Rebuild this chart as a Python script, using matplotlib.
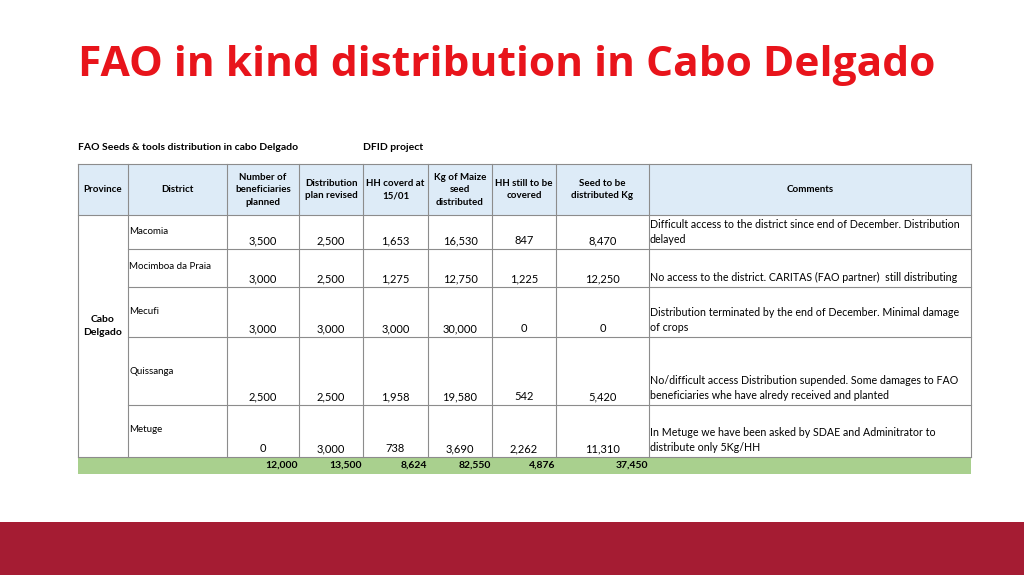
import matplotlib.pyplot as plt
from matplotlib.patches import Rectangle
from matplotlib.lines import Line2D

plt.rcParams['font.family'] = ['Lato', 'DejaVu Sans']

W, H = 1024, 575

headers = ["Province", "District", "Number of\nbeneficiaries\nplanned", "Distribution\nplan revised",
           "HH coverd at\n15/01", "Kg of Maize\nseed\ndistributed", "HH still to be\ncovered",
           "Seed to be\ndistributed Kg", "Comments"]
province = "Cabo\nDelgado"
districts = ["Macomia", "Mocimboa da Praia", "Mecufi", "Quissanga", "Metuge"]
planned = [3500, 3000, 3000, 2500, 0]
revised = [2500, 2500, 3000, 2500, 3000]
hh_covered = [1653, 1275, 3000, 1958, 738]
kg_distributed = [16530, 12750, 30000, 19580, 3690]
hh_remaining = [847, 1225, 0, 542, 2262]
kg_remaining = [8470, 12250, 0, 5420, 11310]
comments = [
    "Difficult access to the district since end of December. Distribution\ndelayed",
    "No access to the district. CARITAS (FAO partner)  still distributing",
    "Distribution terminated by the end of December. Minimal damage\nof crops",
    "No/difficult access Distribution supended. Some damages to FAO\nbeneficiaries whe have alredy received and planted",
    "In Metuge we have been asked by SDAE and Adminitrator to\ndistribute only 5Kg/HH",
]
totals = [12000, 13500, 8624, 82550, 4876, 37450]

cols = [78, 128, 227, 299, 363, 428, 492, 556, 649, 971]
rows = [164, 215, 249, 287, 337, 405, 457, 474]
label_offsets = [16, 18, 24, 34, 25]

fig = plt.figure(figsize=(W / 100, H / 100), dpi=100)
fig.patch.set_facecolor('white')


def fx(x):
    return x / W


def fy(y):
    return 1 - y / H


def txt(x, y, s, **kw):
    fig.text(fx(x), fy(y), s, **kw)


def rect(x0, y0, x1, y1, **kw):
    fig.add_artist(Rectangle((fx(x0), fy(y1)), fx(x1) - fx(x0), fy(y0) - fy(y1),
                             transform=fig.transFigure, **kw))


def line(x0, y0, x1, y1, c='#8c8c8c', lw=0.8):
    fig.add_artist(Line2D([fx(x0), fx(x1)], [fy(y0), fy(y1)], color=c, lw=lw,
                          transform=fig.transFigure))


txt(78, 65, "FAO in kind distribution in Cabo Delgado", color='#E8141B', fontsize=30.6,
    fontweight='bold', va='center', family=['Open Sans', 'DejaVu Sans'])
rect(0, 522, W, H, color='#A51C33', lw=0)

fs = 7.5
txt(78, 147, "FAO Seeds & tools distribution in cabo Delgado", fontsize=fs, fontweight='bold', va='center')
txt(363, 147, "DFID project", fontsize=fs, fontweight='bold', va='center')

# header
rect(cols[0], rows[0], cols[-1], rows[1], facecolor='#DDEBF7', edgecolor='none')
for i, h in enumerate(headers):
    txt((cols[i] + cols[i + 1]) / 2, (rows[0] + rows[1]) / 2, h, fontsize=fs - 0.5,
        fontweight='bold', ha='center', va='center', linespacing=1.5)

# total row
rect(cols[0], rows[-2], cols[-1], rows[-1], facecolor='#A9D08E', edgecolor='none')
for i, v in enumerate(totals):
    txt(cols[i + 3] - 1, (rows[-2] + rows[-1]) / 2, f"{v:,}", fontsize=fs,
        fontweight='bold', ha='right', va='center')

# grid
line(cols[0], rows[0], cols[-1], rows[0])
line(cols[0], rows[1], cols[-1], rows[1])
for y in rows[2:-2]:
    line(cols[1], y, cols[-1], y)
line(cols[0], rows[-2], cols[-1], rows[-2])
for x in cols:
    line(x, rows[0], x, rows[-2])

txt((cols[0] + cols[1]) / 2, (rows[1] + rows[-2]) / 2 - 10, province, fontsize=fs,
    fontweight='bold', ha='center', va='center', linespacing=1.6)

for r, d in enumerate(districts):
    y0, y1 = rows[r + 1], rows[r + 2]
    txt(cols[1] + 1, y0 + label_offsets[r], d, fontsize=fs - 0.5, va='center')
    vals = [planned[r], revised[r], hh_covered[r], kg_distributed[r], hh_remaining[r], kg_remaining[r]]
    for c, v in enumerate(vals):
        txt((cols[c + 2] + cols[c + 3]) / 2, y1 - 8, f"{v:,}", fontsize=fs + 0.5,
            ha='center', va='center')
    txt(cols[8] + 1, y1 - 4, comments[r], fontsize=fs + 0.2, va='bottom', linespacing=1.5)

fig.savefig("out.png", dpi=100)
